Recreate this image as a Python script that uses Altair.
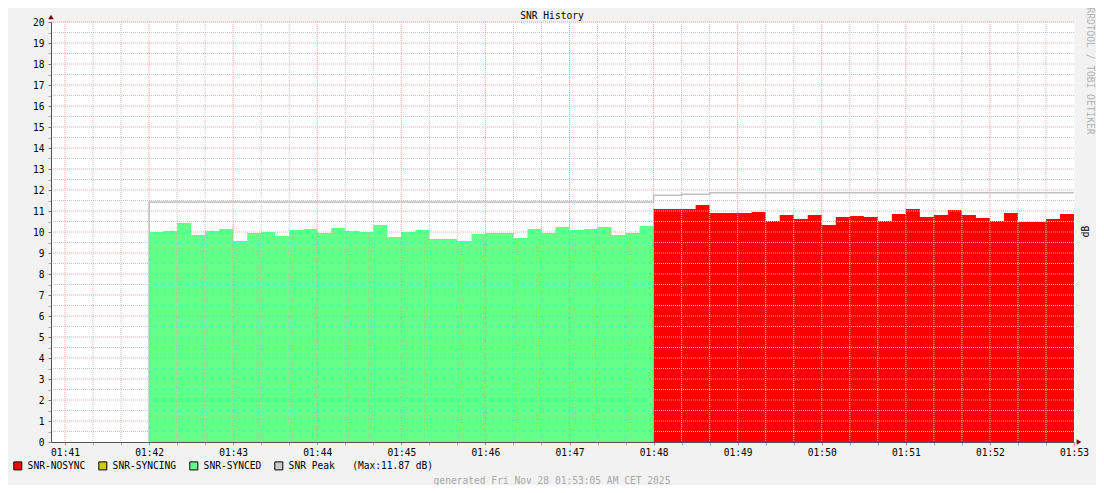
import datetime as dt
import altair as alt
import pandas as pd

# ---- data ----
green_start = dt.datetime(2025, 11, 28, 1, 42, 0)
green_values = [10.0, 10.05, 10.43, 9.86, 10.05, 10.14, 9.57, 9.95, 10.0, 9.81,
                10.10, 10.14, 9.95, 10.19, 10.05, 10.0, 10.33, 9.76, 10.0, 10.10,
                9.67, 9.67, 9.57, 9.90, 9.95, 9.95, 9.71, 10.14, 9.95, 10.24,
                10.10, 10.14, 10.24, 9.86, 9.95, 10.29]
red_start = dt.datetime(2025, 11, 28, 1, 48, 0)
red_values = [11.10, 11.10, 11.10, 11.29, 10.90, 10.90, 10.90, 10.95, 10.52, 10.81,
              10.62, 10.81, 10.33, 10.71, 10.76, 10.71, 10.52, 10.86, 11.10, 10.71,
              10.81, 11.05, 10.81, 10.67, 10.52, 10.90, 10.48, 10.48, 10.62, 10.86]
step_seconds = 10
peak_times = ["01:42:00", "01:42:00", "01:48:00", "01:48:20", "01:48:40", "01:53:00"]
peak_values = [0, 11.43, 11.75, 11.80, 11.87, 11.87]
series_names = ["SNR-NOSYNC", "SNR-SYNCING", "SNR-SYNCED", "SNR Peak\u00a0\u00a0\u00a0(Max:11.87 dB)"]
series_colors = ["#ff0000", "#cccc00", "#66ff88", "#cccccc"]
minute_labels = ["01:41", "01:42", "01:43", "01:44", "01:45", "01:46", "01:47",
                 "01:48", "01:49", "01:50", "01:51", "01:52", "01:53"]

DAY = dt.datetime(2025, 11, 28)


def at(hms):
    h, m, s = (int(p) for p in hms.split(":"))
    return DAY.replace(hour=h, minute=m, second=s)


def dtobj(t):
    return alt.DateTime(year=t.year, month=t.month, date=t.day,
                        hours=t.hour, minutes=t.minute, seconds=t.second)


rows = []
for name, start, vals in [("SNR-SYNCED", green_start, green_values),
                          ("SNR-NOSYNC", red_start, red_values)]:
    for i, v in enumerate(vals):
        rows.append({"t": start + dt.timedelta(seconds=step_seconds * i), "v": v, "series": name})
    rows.append({"t": start + dt.timedelta(seconds=step_seconds * len(vals)), "v": vals[-1], "series": name})
area_df = pd.DataFrame(rows)

peak_df = pd.DataFrame({"t": [at(x) for x in peak_times], "v": peak_values,
                        "i": list(range(len(peak_values)))})

t_min = at("01:40:50")
t_max = at("01:53:00")

minute_times = [at(m + ":00") for m in minute_labels]
tick_times = []
for mt in minute_times:
    for s in (0, 20, 40):
        tt = mt + dt.timedelta(seconds=s)
        if tt <= t_max:
            tick_times.append(tt)
minor_x = [t for t in tick_times if t.second != 0]
major_x = [t for t in minute_times if t < t_max]
minor_y = [k + 0.5 for k in range(20)]
major_y = [k for k in range(1, 21)]

FONT = "DejaVu Sans Mono"
FS = 9.6

x_scale = alt.Scale(domain=[dtobj(t_min), dtobj(t_max)])
y_scale = alt.Scale(domain=[0, 20], nice=False)

x_axis = alt.Axis(
    values=[dtobj(t) for t in tick_times],
    labelExpr="seconds(datum.value) == 0 ? timeFormat(datum.value, '%H:%M') : ''",
    grid=False, title=None, tickSize=3, labelPadding=2, labelOverlap=False,
    labelFlush=False, domainColor="#555555", zindex=1,
    tickColor={"condition": {"test": "seconds(datum.value) == 0", "value": "#e08080"},
               "value": "#aaaaaa"},
)
y_axis = alt.Axis(
    values=[k / 2 for k in range(41)],
    labelExpr="datum.value % 1 == 0 ? format(datum.value, 'd') : ''",
    grid=False, title=None, tickSize=3, labelPadding=4, labelOverlap=False,
    labelFlush=False, domainColor="#555555", zindex=1,
    tickColor={"condition": {"test": "datum.value % 1 == 0", "value": "#777777"},
               "value": "#aaaaaa"},
)


def X(field):
    return alt.X(field, scale=x_scale, axis=x_axis)


def Y(field, **kw):
    return alt.Y(field, scale=y_scale, axis=y_axis, **kw)


areas = alt.Chart(area_df).mark_area(interpolate="step-after", opacity=1).encode(
    x=X("t:T"),
    y=Y("v:Q", stack=None),
    color=alt.Color(
        "series:N",
        scale=alt.Scale(domain=series_names, range=series_colors),
        legend=alt.Legend(
            orient="none", legendX=-38, legendY=439, direction="horizontal",
            title=None, symbolType="square", symbolSize=64,
            symbolStrokeColor="black", symbolStrokeWidth=1,
            labelFont=FONT, labelFontSize=FS, labelColor="#000000",
            columnPadding=10, labelOffset=5, padding=0, labelLimit=300,
        ),
    ),
)

MINOR = "#c4c4c4"
MAJOR = "#f4a0a0"
grid_minor_x = alt.Chart(pd.DataFrame({"t": minor_x})).mark_rule(
    color=MINOR, strokeDash=[1, 1], strokeWidth=1).encode(x=X("t:T"))
grid_minor_y = alt.Chart(pd.DataFrame({"v": minor_y})).mark_rule(
    color=MINOR, strokeDash=[1, 1], strokeWidth=1).encode(y=Y("v:Q"))
grid_major_x = alt.Chart(pd.DataFrame({"t": major_x})).mark_rule(
    color=MAJOR, strokeDash=[1, 1], strokeWidth=1).encode(x=X("t:T"))
grid_major_y = alt.Chart(pd.DataFrame({"v": major_y})).mark_rule(
    color=MAJOR, strokeDash=[1, 1], strokeWidth=1).encode(y=Y("v:Q"))

peak = alt.Chart(peak_df).mark_line(interpolate="step-after", color="#c0c0c0",
                                    strokeWidth=1.5).encode(
    x=X("t:T"), y=Y("v:Q"), order="i:Q")

arrow_up = alt.Chart(pd.DataFrame({"t": [t_min], "v": [20]})).mark_point(
    shape="triangle-up", filled=True, size=30, color="#7a0000", opacity=1, yOffset=-5
).encode(x=X("t:T"), y=Y("v:Q"))
arrow_right = alt.Chart(pd.DataFrame({"t": [t_max], "v": [0]})).mark_point(
    shape="triangle-right", filled=True, size=30, color="#7a0000", opacity=1, xOffset=5
).encode(x=X("t:T"), y=Y("v:Q"))


def label(text, x, y, color="#000000", angle=0):
    kw = dict(font=FONT, fontSize=FS, color=color, align="center", baseline="middle", text=text)
    if angle:
        kw["angle"] = angle
    return alt.Chart(alt.Data(values=[{}])).mark_text(**kw).encode(
        x=alt.value(x), y=alt.value(y))


title = label("SNR History", 501, -6)
watermark = label("RRDTOOL / TOBI OETIKER", 1039, 49, color="#b4b4b4", angle=90)
unit = label("dB", 1034.5, 209.5, angle=270)
generated = label("generated Fri Nov 28 01:53:05 AM CET 2025", 501, 459, color="#a8a8a8")

chart = alt.layer(
    areas, grid_minor_x, grid_minor_y, grid_major_x, grid_major_y, peak,
    arrow_up, arrow_right, title, watermark, unit, generated,
).properties(
    width=1023, height=420,
    autosize=alt.AutoSizeParams(type="none"),
    padding={"left": 43, "top": 14, "right": 22, "bottom": 43},
    background="#f2f2f2",
).configure_view(fill="white", stroke="transparent").configure_axis(
    labelFont=FONT, labelFontSize=FS, labelColor="#000000", labelOverlap=False,
)

chart.save("out.html", embed_options={"renderer": "svg", "actions": False})
